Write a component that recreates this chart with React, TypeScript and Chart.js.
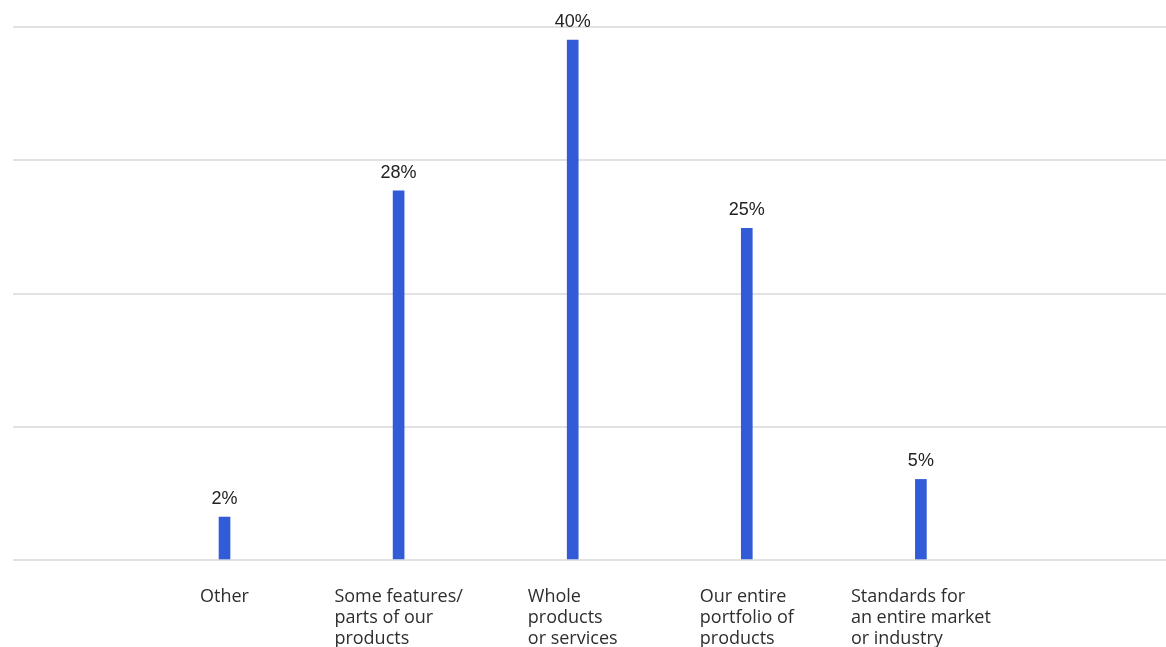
import React, { useEffect, useRef } from 'react';
import { Chart, registerables } from 'chart.js';

Chart.register(...registerables);

// ---- data ----
const categories: string[][] = [
  ['Other'],
  ['Some features/', 'parts of our', 'products'],
  ['Whole', 'products', 'or services'],
  ['Our entire', 'portfolio of', 'products'],
  ['Standards for', 'an entire market', 'or industry'],
];
const values: number[] = [2, 28, 40, 25, 5];
const valueLabels: string[] = ['2%', '28%', '40%', '25%', '5%'];

// value-axis range as seen in the picture (bars rise from the bottom line)
const yMin = -1.42;
const yMax = 41.05;
const xMin = -1.215;
const xMax = 5.408;

const BAR_COLOR = '#325bd8';
const GRID_COLOR = '#e2e2e2';

const labelPlugin = {
  id: 'customLabels',
  afterDatasetsDraw(chart: any) {
    const ctx = chart.ctx as CanvasRenderingContext2D;
    const meta = chart.getDatasetMeta(0);
    const xScale = chart.scales.x;
    const area = chart.chartArea;
    ctx.save();
    ctx.fillStyle = '#222222';
    ctx.font = '18px "Liberation Sans", Arial, sans-serif';
    ctx.textAlign = 'center';
    ctx.textBaseline = 'alphabetic';
    meta.data.forEach((bar: any, i: number) => {
      ctx.fillText(valueLabels[i], bar.x, bar.y - 13);
    });
    ctx.font = '18px "Open Sans", sans-serif';
    ctx.fillStyle = '#2e2e2e';
    ctx.textAlign = 'left';
    categories.forEach((lines, i) => {
      const cx = xScale.getPixelForValue(i);
      const w = Math.max(...lines.map((l) => ctx.measureText(l).width));
      lines.forEach((l, j) => {
        ctx.fillText(l, cx - w / 2, area.bottom + 42 + j * 21);
      });
    });
    ctx.restore();
  },
};

export default function App() {
  const canvasRef = useRef<HTMLCanvasElement | null>(null);

  useEffect(() => {
    if (!canvasRef.current) return;
    const chart = new Chart(canvasRef.current, {
      type: 'bar',
      data: {
        datasets: [
          {
            data: values.map((v, i) => ({ x: i, y: v })),
            backgroundColor: BAR_COLOR,
            barThickness: 11,
            base: yMin,
          } as any,
        ],
      },
      options: {
        animation: false,
        responsive: true,
        maintainAspectRatio: false,
        layout: { padding: { left: 13, right: 0, top: 27, bottom: 87 } },
        plugins: {
          legend: { display: false },
          tooltip: { enabled: false },
        },
        scales: {
          x: {
            type: 'linear',
            display: false,
            offset: false,
            min: xMin,
            max: xMax,
          },
          y: {
            min: yMin,
            max: yMax,
            afterBuildTicks: (scale: any) => {
              scale.ticks = [0, 1, 2, 3, 4].map((k) => ({
                value: yMin + (k * (yMax - yMin)) / 4,
              }));
            },
            ticks: { display: false },
            border: { display: false },
            grid: {
              color: GRID_COLOR,
              lineWidth: 2,
              drawTicks: false,
            },
          },
        },
      },
      plugins: [labelPlugin],
    });
    return () => chart.destroy();
  }, []);

  return (
    <div style={{ position: 'fixed', left: 0, top: 0, width: '100vw', height: '100vh', background: '#fff' }}>
      <canvas ref={canvasRef} />
    </div>
  );
}
